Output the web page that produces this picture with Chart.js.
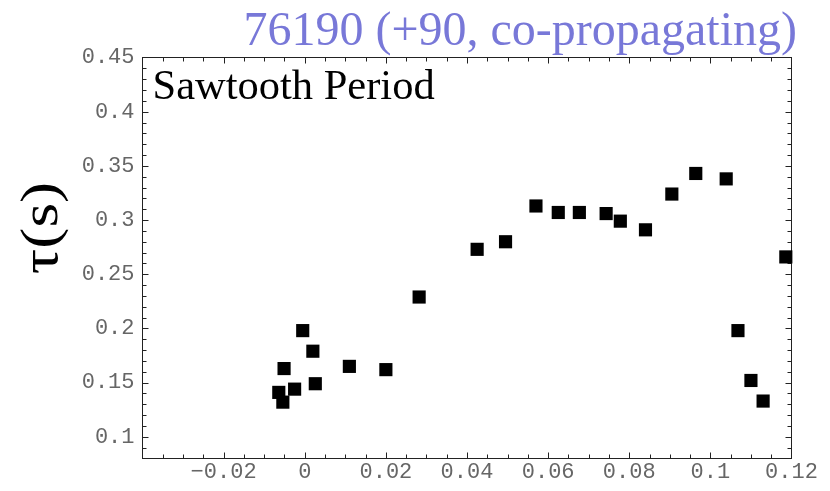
<!DOCTYPE html>
<html>
<head>
<meta charset="utf-8">
<script src="https://cdn.jsdelivr.net/npm/chart.js@4"></script>
<style>
  html, body { margin: 0; padding: 0; background: #fff; }
  #wrap { width: 830px; height: 491px; }
</style>
</head>
<body>
<div id="wrap"><canvas id="c" width="830" height="491"></canvas></div>
<script>
// Text
const plotTitle = '76190 (+90, co-propagating)';
const panelLabel = 'Sawtooth Period';
const yAxisTitle = 'τ(s)';

// Sawtooth period measurements
const shift = [-0.0064, -0.0054, -0.0051, -0.0025, -0.0005, 0.0020, 0.0026, 0.0110, 0.0200,
               0.0282, 0.0425, 0.0495, 0.0570, 0.0625, 0.0677, 0.0743, 0.0778, 0.0840,
               0.0905, 0.0964, 0.1039, 0.1068, 0.1100, 0.1130, 0.1186];
const tau   = [0.141, 0.132, 0.163, 0.144, 0.198, 0.179, 0.149, 0.165, 0.162,
               0.229, 0.273, 0.280, 0.313, 0.307, 0.307, 0.306, 0.299, 0.291,
               0.324, 0.343, 0.338, 0.198, 0.152, 0.133, 0.266];

// Axis ticks
const xTickValues = [-0.02, 0, 0.02, 0.04, 0.06, 0.08, 0.1, 0.12];
const xTickLabels = ['\u22120.02', '0', '0.02', '0.04', '0.06', '0.08', '0.1', '0.12'];
const yTickValues = [0.1, 0.15, 0.2, 0.25, 0.3, 0.35, 0.4, 0.45];
const yTickLabels = ['0.1', '0.15', '0.2', '0.25', '0.3', '0.35', '0.4', '0.45'];

const X_MIN = -0.04, X_MAX = 0.12, X_MINOR = 0.005, X_MAJOR = 0.02;
const Y_MIN = 0.08, Y_MAX = 0.45, Y_MINOR = 0.01, Y_MAJOR = 0.05;

const tickFont = { family: '"Liberation Mono", "Courier New", monospace', size: 22 };
const tickColor = '#666';

// Frame with inward tick marks on all four sides, plus the overlaid texts
const framePlugin = {
  id: 'frame',
  beforeDatasetsDraw(chart) {
    const { ctx, chartArea: a, scales: { x, y } } = chart;
    ctx.save();
    ctx.strokeStyle = '#222';
    ctx.lineWidth = 1;
    ctx.strokeRect(a.left, a.top, a.right - a.left, a.bottom - a.top);
    ctx.beginPath();
    const nx = Math.round((X_MAX - X_MIN) / X_MINOR);
    for (let i = 1; i < nx; i++) {
      const v = X_MIN + i * X_MINOR;
      const major = Math.abs(v / X_MAJOR - Math.round(v / X_MAJOR)) < 1e-6;
      const len = major ? 6 : 4;
      const px = Math.round(x.getPixelForValue(v)) + 0.5;
      ctx.moveTo(px, a.bottom); ctx.lineTo(px, a.bottom - len);
      ctx.moveTo(px, a.top); ctx.lineTo(px, a.top + len);
    }
    const ny = Math.round((Y_MAX - Y_MIN) / Y_MINOR);
    for (let i = 1; i < ny; i++) {
      const v = Y_MIN + i * Y_MINOR;
      const major = Math.abs(v / Y_MAJOR - Math.round(v / Y_MAJOR)) < 1e-6;
      const len = major ? 6 : 4;
      const py = Math.round(y.getPixelForValue(v)) + 0.5;
      ctx.moveTo(a.left, py); ctx.lineTo(a.left + len, py);
      ctx.moveTo(a.right, py); ctx.lineTo(a.right - len, py);
    }
    ctx.stroke();
    ctx.restore();
  },
  afterDraw(chart) {
    const { ctx, chartArea: a } = chart;
    ctx.save();
    // title, right-aligned above the frame
    ctx.fillStyle = '#7878d8';
    ctx.font = '48px "Liberation Serif", "Times New Roman", serif';
    ctx.textAlign = 'right';
    ctx.textBaseline = 'alphabetic';
    ctx.fillText(plotTitle, 797, 45);
    // panel label in the upper-left corner of the plot
    ctx.fillStyle = '#000';
    ctx.font = '42.5px "Liberation Serif", "Times New Roman", serif';
    ctx.textAlign = 'left';
    ctx.fillText(panelLabel, a.left + 10, a.top + 41);
    ctx.restore();
    // rotated y-axis title
    ctx.save();
    ctx.fillStyle = '#000';
    ctx.translate(57, 228);
    ctx.rotate(-Math.PI / 2);
    ctx.scale(1.22, 1);
    ctx.font = '52px "Liberation Serif", "Times New Roman", serif';
    ctx.textAlign = 'center';
    ctx.textBaseline = 'alphabetic';
    ctx.fillText(yAxisTitle, 0, 0);
    ctx.restore();
  }
};

new Chart(document.getElementById('c'), {
  type: 'scatter',
  data: {
    datasets: [{
      data: shift.map((v, i) => ({ x: v, y: tau[i] })),
      pointStyle: 'rect',
      pointRadius: 9.3,
      pointHoverRadius: 9.3,
      backgroundColor: '#000',
      borderWidth: 0,
      clip: false
    }]
  },
  options: {
    responsive: false,
    devicePixelRatio: 1,
    animation: false,
    layout: { padding: { left: 0, top: 57.5, right: 38.5, bottom: 0 } },
    plugins: { legend: { display: false }, tooltip: { enabled: false }, title: { display: false } },
    scales: {
      x: {
        type: 'linear', min: X_MIN, max: X_MAX,
        grid: { display: false, drawTicks: false },
        border: { display: false },
        afterBuildTicks: s => { s.ticks = xTickValues.map(v => ({ value: v })); },
        afterFit: s => { s.height = 32.5; },
        ticks: {
          font: tickFont, color: tickColor, padding: 0,
          autoSkip: false, maxRotation: 0, minRotation: 0,
          callback: v => { const i = xTickValues.findIndex(t => Math.abs(t - v) < 1e-9); return i < 0 ? '' : xTickLabels[i]; }
        }
      },
      y: {
        type: 'linear', min: Y_MIN, max: Y_MAX,
        grid: { display: false, drawTicks: false },
        border: { display: false },
        afterBuildTicks: s => { s.ticks = yTickValues.map(v => ({ value: v })); },
        afterFit: s => { s.width = 142.5; },
        ticks: {
          font: tickFont, color: tickColor, padding: 8,
          autoSkip: false,
          callback: v => { const i = yTickValues.findIndex(t => Math.abs(t - v) < 1e-9); return i < 0 ? '' : yTickLabels[i]; }
        }
      }
    }
  },
  plugins: [framePlugin]
});
</script>
</body>
</html>
